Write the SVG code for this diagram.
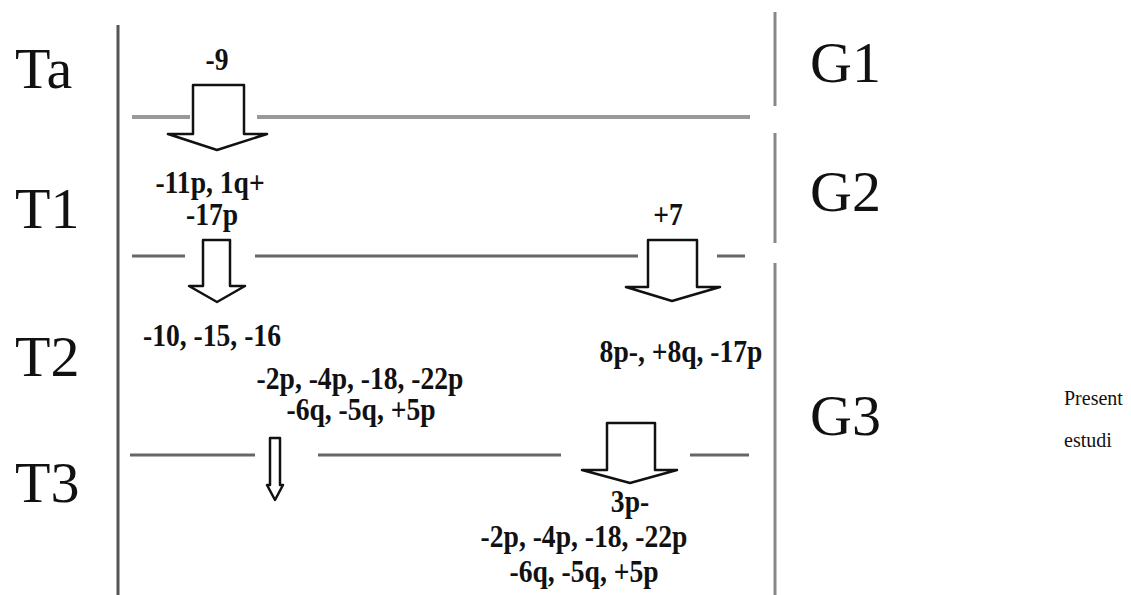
<svg xmlns="http://www.w3.org/2000/svg" width="1131" height="595" viewBox="0 0 1131 595">
<style>
.lbl{font-family:"Liberation Serif","Times New Roman",serif;font-size:58px;fill:#111}
.dat{font-family:"Liberation Serif","Times New Roman",serif;font-size:31px;font-weight:bold;fill:#111;text-anchor:middle}
.sm{font-family:"Liberation Serif","Times New Roman",serif;font-size:20px;fill:#111}
.vl{stroke:#555;stroke-width:3;fill:none}
.vr{stroke:#888;stroke-width:3;fill:none}
.hl{stroke:#666;stroke-width:3;fill:none}
.hl2{stroke:#999;stroke-width:4;fill:none}
.arr{fill:#fff;stroke:#111;stroke-width:2.5;stroke-linejoin:round}
</style>
<rect width="1131" height="595" fill="#fff"/>
<g id="frame">
<line class="vl" x1="118" y1="25" x2="118" y2="595"/>
<line class="vr" x1="775" y1="12" x2="775" y2="106"/>
<line class="vr" x1="775" y1="133" x2="775" y2="243"/>
<line class="vr" x1="775" y1="263" x2="775" y2="595"/>
</g>
<g id="connectors">
<line class="hl2" x1="132" y1="117" x2="190" y2="117"/>
<line class="hl2" x1="257" y1="117" x2="750" y2="117"/>
<line class="hl" x1="132" y1="256" x2="185" y2="256"/>
<line class="hl" x1="255" y1="256" x2="638" y2="256"/>
<line class="hl" x1="717" y1="256" x2="745" y2="256"/>
<line class="hl" x1="130" y1="455" x2="255" y2="455"/>
<line class="hl" x1="318" y1="455" x2="561" y2="455"/>
<line class="hl" x1="690" y1="455" x2="749" y2="455"/>
</g>
<g id="arrow-9">
<path class="arr" d="M193,85 H244 V134 H267 L217,150 L168,134 H193 Z"/>
</g>
<g id="arrow-17p">
<path class="arr" d="M203,240 H230 V286 H245 L217,302 L189,286 H203 Z"/>
</g>
<g id="arrow-7">
<path class="arr" d="M648,240 H697 V287 H720 L672,301 L626,287 H648 Z"/>
</g>
<g id="arrow-3p">
<path class="arr" d="M607,423 H655 V470 H677 L630,483 L582,470 H607 Z"/>
</g>
<g id="arrow-thin">
<path class="arr" d="M270,438 H280 V485 H283 L275,500 L267,485 H270 Z"/>
</g>
<g id="labels-left">
<text class="lbl" x="15" y="88">Ta</text>
<text class="lbl" x="15" y="228">T1</text>
<text class="lbl" x="15" y="376">T2</text>
<text class="lbl" x="15" y="502">T3</text>
</g>
<g id="labels-right">
<text class="lbl" x="810" y="82">G1</text>
<text class="lbl" x="810" y="211">G2</text>
<text class="lbl" x="810" y="435">G3</text>
<text class="sm" x="1064" y="405">Present</text>
<text class="sm" x="1064" y="447">estudi</text>
</g>
<g id="data">
<text class="dat" transform="translate(217,70) scale(0.89,1)">-9</text>
<text class="dat" transform="translate(210,193) scale(0.89,1)">-11p, 1q+</text>
<text class="dat" transform="translate(212,225) scale(0.89,1)">-17p</text>
<text class="dat" transform="translate(668,225) scale(0.89,1)">+7</text>
<text class="dat" transform="translate(212,346) scale(0.89,1)">-10, -15, -16</text>
<text class="dat" transform="translate(681,362) scale(0.89,1)">8p-, +8q, -17p</text>
<text class="dat" transform="translate(360,389) scale(0.89,1)">-2p, -4p, -18, -22p</text>
<text class="dat" transform="translate(361,420) scale(0.89,1)">-6q, -5q, +5p</text>
<text class="dat" transform="translate(630,512) scale(0.89,1)">3p-</text>
<text class="dat" transform="translate(584,547) scale(0.89,1)">-2p, -4p, -18, -22p</text>
<text class="dat" transform="translate(584,582) scale(0.89,1)">-6q, -5q, +5p</text>
</g>
</svg>
